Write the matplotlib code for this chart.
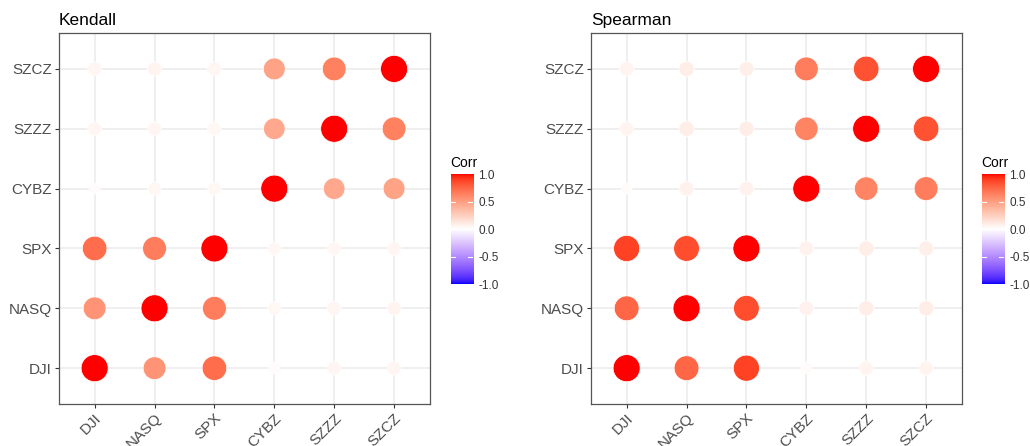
import matplotlib.pyplot as plt
import numpy as np
from matplotlib.colors import ListedColormap

plt.rcParams['font.family'] = ['Liberation Sans', 'DejaVu Sans']

labels = ["DJI", "NASQ", "SPX", "CYBZ", "SZZZ", "SZCZ"]

kendall = [
    [1.00, 0.55, 0.72, 0.02, 0.05, 0.05],
    [0.55, 1.00, 0.65, 0.04, 0.05, 0.055],
    [0.72, 0.65, 1.00, 0.04, 0.045, 0.05],
    [0.02, 0.04, 0.04, 1.00, 0.45, 0.47],
    [0.05, 0.05, 0.045, 0.45, 1.00, 0.64],
    [0.05, 0.055, 0.05, 0.47, 0.64, 1.00],
]

spearman = [
    [1.00, 0.75, 0.89, 0.02, 0.06, 0.06],
    [0.75, 1.00, 0.85, 0.07, 0.09, 0.09],
    [0.89, 0.85, 1.00, 0.07, 0.09, 0.08],
    [0.02, 0.07, 0.07, 1.00, 0.62, 0.65],
    [0.06, 0.09, 0.09, 0.62, 1.00, 0.83],
    [0.06, 0.09, 0.08, 0.65, 0.83, 1.00],
]

titles = ["Kendall", "Spearman"]


# ggplot's gradient2 goes through Lab space, so do the same here
WHITE = np.array([0.95047, 1.0, 1.08883])
M = np.array([[0.4124564, 0.3575761, 0.1804375],
              [0.2126729, 0.7151522, 0.0721750],
              [0.0193339, 0.1191920, 0.9503041]])


def to_lab(rgb):
    c = np.asarray(rgb, float)
    lin = np.where(c <= 0.04045, c / 12.92, ((c + 0.055) / 1.055) ** 2.4)
    xyz = M @ lin / WHITE
    f = np.where(xyz > 0.008856, np.cbrt(xyz), 7.787 * xyz + 16 / 116)
    return np.array([116 * f[1] - 16, 500 * (f[0] - f[1]), 200 * (f[1] - f[2])])


def from_lab(lab):
    L, a, b = lab
    fy = (L + 16) / 116
    fx = fy + a / 500
    fz = fy - b / 200
    f = np.array([fx, fy, fz])
    xyz = np.where(f ** 3 > 0.008856, f ** 3, (f - 16 / 116) / 7.787) * WHITE
    lin = np.linalg.solve(M, xyz)
    lin = np.clip(lin, 0, 1)
    c = np.where(lin <= 0.0031308, 12.92 * lin, 1.055 * lin ** (1 / 2.4) - 0.055)
    return np.clip(c, 0, 1)


low, mid, high = to_lab([0, 0, 1]), to_lab([1, 1, 1]), to_lab([1, 0, 0])
cols = []
for t in np.linspace(-1, 1, 256):
    if t < 0:
        cols.append(from_lab(mid + (low - mid) * (-t)))
    else:
        cols.append(from_lab(mid + (high - mid) * t))
cmap = ListedColormap(cols)

fig = plt.figure(figsize=(10.3, 4.46), dpi=100)

panels = [(0.057, 0.4376), (0.5735, 0.9531)]
grey30 = "#4D4D4D"

for k, mat in enumerate([kendall, spearman]):
    m = np.array(mat)
    left, cb_left = panels[k]
    ax = fig.add_axes([left, 0.094, 0.3605, 0.832])
    n = len(labels)
    xx, yy = np.meshgrid(np.arange(n), np.arange(n))
    v = m.ravel()
    a = np.abs(v)
    t = (a - a.min()) / (a.max() - a.min())
    diam_px = 11 + 16 * np.sqrt(t)
    sizes = (diam_px * 0.72) ** 2
    ax.scatter(xx.ravel(), yy.ravel(), s=sizes, c=v, cmap=cmap, vmin=-1, vmax=1,
               edgecolors="white", linewidths=0.5, zorder=3)
    ax.set_xlim(-0.6, n - 0.4)
    ax.set_ylim(-0.6, n - 0.4)
    ax.set_xticks(range(n))
    ax.set_yticks(range(n))
    ax.set_xticklabels(labels, rotation=45, ha="right", va="top",
                       rotation_mode="anchor", fontsize=11, color=grey30)
    ax.set_yticklabels(labels, fontsize=11, color=grey30)
    ax.tick_params(length=3, width=0.8, color="#333333", pad=2)
    ax.grid(True, color="#EBEBEB", linewidth=1.1, zorder=0)
    ax.set_axisbelow(True)
    for sp in ax.spines.values():
        sp.set_color("#555555")
        sp.set_linewidth(0.9)
    ax.set_title(titles[k], loc="left", fontsize=12.5, pad=6)

    cax = fig.add_axes([cb_left, 0.3632, 0.0214, 0.2466])
    grad = np.linspace(-1, 1, 256).reshape(-1, 1)
    cax.imshow(grad, aspect="auto", cmap=cmap, origin="lower",
               extent=[0, 1, -1, 1])
    for tv in [-0.5, 0.0, 0.5]:
        cax.plot([0, 0.2], [tv, tv], color="white", lw=0.8)
        cax.plot([0.8, 1], [tv, tv], color="white", lw=0.8)
    cax.set_xlim(0, 1)
    cax.set_ylim(-1, 1)
    cax.set_xticks([])
    cax.yaxis.tick_right()
    cax.set_yticks([-1, -0.5, 0, 0.5, 1])
    cax.set_yticklabels(["-1.0", "-0.5", "0.0", "0.5", "1.0"], fontsize=8.5,
                        color="#333333")
    cax.tick_params(length=0, pad=4)
    for sp in cax.spines.values():
        sp.set_visible(False)
    cax.set_title("Corr", loc="left", fontsize=10, pad=5)

fig.savefig("out.png", dpi=100)
